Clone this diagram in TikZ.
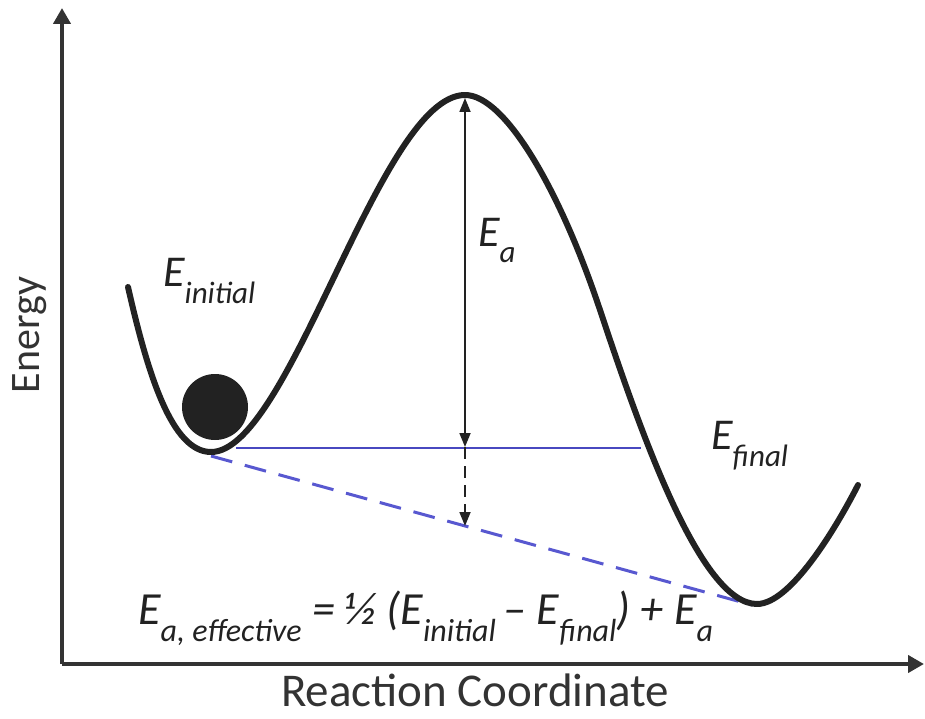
\documentclass[tikz,border=0pt]{standalone}
\usepackage{fontspec}
\setmainfont{Carlito}
\usetikzlibrary{arrows.meta}
\definecolor{curvecol}{HTML}{222222}
\definecolor{axiscol}{HTML}{333333}
\definecolor{bluesolid}{HTML}{4848C0}
\definecolor{bluedash}{HTML}{5858D0}
\newcommand{\lsub}[1]{\raisebox{-17pt}{\fontsize{31}{31}\selectfont #1}}
\newcommand{\fsub}[1]{\raisebox{-17pt}{\fontsize{32}{32}\selectfont #1}}
\begin{document}
\begin{tikzpicture}[x=1pt,y=-1pt,
  curve/.style={line width=6pt, color=curvecol, line cap=round, line join=round},
  axisline/.style={line width=4.5pt, color=axiscol, line join=miter,
     -{Triangle[length=16pt,width=17pt]}},
  thinarrow/.style={line width=1.8pt, color=curvecol},
  solidblue/.style={line width=2.4pt, color=bluesolid},
  dashblue/.style={line width=3pt, color=bluedash, dash pattern=on 22pt off 13pt},
  biglabel/.style={font=\fontsize{44}{48}\selectfont\itshape, inner sep=0pt, anchor=base west, text=curvecol},
  formlabel/.style={font=\fontsize{46}{50}\selectfont\itshape, inner sep=0pt, anchor=base west, text=curvecol},
  axislabel/.style={inner sep=0pt, text=axiscol}
]
\useasboundingbox (0,0) rectangle (925,719);

% axes
\coordinate (ytop) at (62,8);
\coordinate (origin) at (62,664);
\coordinate (xend) at (924,664);
\draw[axisline] (origin) -- (ytop);
\draw[axisline] (origin) -- (xend);

% ball
\fill[curvecol] (215,407) circle (33);

% blue lines
\coordinate (lmin) at (211,456);
\coordinate (rmin) at (752,605);
\coordinate (bl) at (236,448);
\coordinate (br) at (641,448);
\draw[solidblue] (bl) -- (br);
\draw[dashblue] (lmin) -- (rmin);

% energy curve
\draw[curve] (128,287) .. controls (148,375) and (172,452) .. (211,452)
  .. controls (290,452) and (380,95) .. (465,95)
  .. controls (505,95) and (560,190) .. (600,310)
  .. controls (640,430) and (700,604) .. (757,604)
  .. controls (790,604) and (835,530) .. (858,485);

% activation arrows
\coordinate (top) at (465,98);
\coordinate (mid) at (465,447);
\coordinate (low) at (465,526);
\draw[thinarrow, {Triangle[length=14pt,width=11pt]}-{Triangle[length=14pt,width=11pt]}] (top) -- (mid);
\draw[thinarrow, dash pattern=on 12pt off 7pt, -{Triangle[length=14pt,width=11pt]}] (mid) -- (low);

% labels
\node[biglabel] (ea) at (478,246) {E\lsub{a}};
\node[biglabel] (ein) at (163,286) {E\lsub{initial}};
\node[biglabel] (efin) at (711,449) {E\lsub{final}};
\node[formlabel] (form) at (138,624) {E\fsub{a, effective} = ½ (E\fsub{initial}\,– E\fsub{final}) + E\fsub{a}};

\node[axislabel, font=\fontsize{42}{46}\selectfont, rotate=90] (ylab) at (30,335) {Energy};
\node[axislabel, font=\fontsize{47}{50}\selectfont] (xlab) at (475,690) {Reaction Coordinate};
\end{tikzpicture}
\end{document}
